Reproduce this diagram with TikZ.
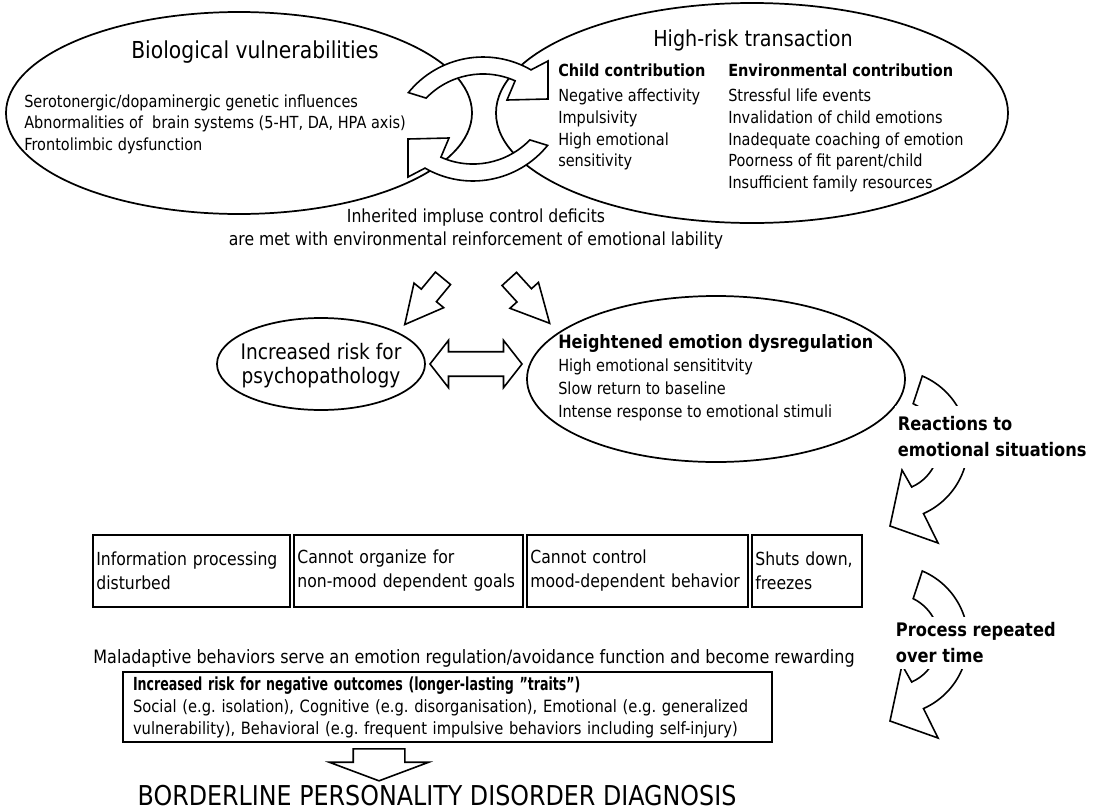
\documentclass[tikz,border=0pt]{standalone}
\usepackage{fontspec}
\setmainfont{DejaVu Sans}[FakeStretch=0.87]
\newfontfamily\narrowfont{DejaVu Sans}[FakeStretch=0.7]
\usetikzlibrary{shapes.geometric,shapes.arrows}

\begin{document}
\frenchspacing
\begin{tikzpicture}[x=0.75pt,y=-0.75pt,
  oval/.style={draw, ellipse, line width=1.3pt, inner sep=0pt},
  txt/.style={inner sep=0pt, align=left, font=\fontsize{12.5}{16.3}\selectfont},
  band/.style={draw, fill=white, line width=1.2pt},
  fat/.style={single arrow, draw, fill=white, line width=1.2pt, inner xsep=0pt},
  lbl/.style={fill=white, inner xsep=2pt, inner ysep=8pt, align=left, font=\fontsize{14}{19.5}\selectfont\bfseries},
  outbox/.style={draw, line width=1.4pt, minimum height=54pt, inner xsep=2.5pt, align=left, font=\fontsize{13.5}{18}\selectfont}]
\fill[white] (0,0) rectangle (1097,811);
\useasboundingbox (0,0) rectangle (1097,811);

% the two top ellipses
\node[oval, minimum width=349.5pt, minimum height=151.5pt] (bio) at (239,113) {};
\node[oval, minimum width=384pt, minimum height=165pt] (trans) at (752,113) {};

% circular arrows between them
\draw[band] (408.4,92.6) arc[start angle=219, end angle=300, radius=96] -- (548,61) -- (548,99) -- (507,100) -- (515.1,80.8) arc[start angle=294, end angle=224, radius=79] -- cycle;
\draw[band, rotate around={180:(478,119)}] (408.4,92.6) arc[start angle=219, end angle=300, radius=96] -- (548,61) -- (548,99) -- (507,100) -- (515.1,80.8) arc[start angle=294, end angle=224, radius=79] -- cycle;

\node[font=\fontsize{17.5}{20}\selectfont] (biotitle) at (255,52) {Biological vulnerabilities};
\node[txt, anchor=west, font=\fontsize{12.5}{16.1}\selectfont] (biolist) at (24,124) {Serotonergic/dopaminergic genetic influences\\Abnormalities of \ brain systems (5-HT, DA, HPA axis)\\Frontolimbic dysfunction};
\node[font=\fontsize{16.5}{19}\selectfont] (transtitle) at (753,40) {High-risk transaction};
\node[txt, anchor=west] (child) at (558,117) {{\bfseries Child contribution}\\[2.5pt]Negative affectivity\\Impulsivity\\High emotional\\sensitivity};
\node[txt, anchor=west] (env) at (728,128) {{\bfseries Environmental contribution}\\[2.5pt]Stressful life events\\Invalidation of child emotions\\Inadequate coaching of emotion\\Poorness of fit parent/child\\Insufficient family resources};

\node[align=center, inner sep=0pt, font=\fontsize{13.5}{17.25}\selectfont] (inherit) at (476,229) {Inherited impluse control deficits\\are met with environmental reinforcement of emotional lability};

% block arrows down
\node[fat, minimum height=45pt, inner ysep=6.75pt, single arrow head extend=7.1pt, single arrow tip angle=54, rotate=-129.6] (toRisk) at (430,294) {};
\node[fat, minimum height=45pt, inner ysep=6.75pt, single arrow head extend=7.1pt, single arrow tip angle=54, rotate=-47.7] (toDysreg) at (523,294) {};

% middle ellipses
\node[oval, minimum width=156pt, minimum height=69pt] (risk) at (321,364) {};
\node[align=center, inner sep=0pt, font=\fontsize{16}{18}\selectfont] (risktext) at (321,366) {Increased risk for\\psychopathology};
\node[oval, minimum width=283.5pt, minimum height=124.5pt] (dysreg) at (716,379) {};
\node[txt, anchor=west, font=\fontsize{12.5}{17.25}\selectfont] (dysregtext) at (558,378) {{\fontsize{13.8}{16}\selectfont\bfseries Heightened emotion dysregulation}\\High emotional sensititvity\\Slow return to baseline\\Intense response to emotional stimuli};
\node[double arrow, draw, fill=white, line width=1.2pt, inner xsep=0pt, inner ysep=8.6pt, double arrow head extend=8.6pt, double arrow tip angle=104, minimum height=69pt] (linkRD) at (476,364) {};

% curved arrows on the right
\draw[band] (922.3,376) arc[start angle=-67, end angle=66, radius=75] -- (938,543) -- (890,526) -- (902,470) -- (911.7,487) arc[start angle=66, end angle=-64, radius=46] -- cycle;
\draw[band, shift={(0,195)}] (922.3,376) arc[start angle=-67, end angle=66, radius=75] -- (938,543) -- (890,526) -- (902,470) -- (911.7,487) arc[start angle=66, end angle=-64, radius=46] -- cycle;
\node[lbl, anchor=west] (react) at (895,437) {Reactions to\\emotional situations};
\node[lbl, anchor=west, inner ysep=4pt] (repeat) at (893,643) {Process repeated\\over time};

% row of boxes
\node[outbox, text width=142.75pt] (info) at (191.5,571) {Information processing\\disturbed};
\node[outbox, text width=166.75pt] (goals) at (408.5,571) {Cannot organize for\\non-mood dependent goals};
\node[outbox, text width=160.75pt] (mood) at (637.5,571) {Cannot control\\mood-dependent behavior};
\node[outbox, text width=77.5pt] (freeze) at (807,571) {Shuts down,\\freezes};

\node[font=\fontsize{13.8}{16}\selectfont] (reward) at (474,658) {Maladaptive behaviors serve an emotion regulation/avoidance function and become rewarding};

\node[draw, line width=1.4pt, minimum height=52.5pt, inner xsep=7.5pt, text width=471.75pt, align=left, font=\fontsize{12.7}{16.5}\selectfont] (outcome) at (447.5,707) {{\fontsize{13.5}{16}\narrowfont\bfseries Increased risk for negative outcomes (longer-lasting ”traits”)}\\Social (e.g. isolation), Cognitive (e.g. disorganisation), Emotional (e.g. generalized\\vulnerability), Behavioral (e.g. frequent impulsive behaviors including self-injury)};

\node[fat, rotate=-90, minimum height=24pt, inner ysep=18.75pt, single arrow head extend=18pt, single arrow tip angle=139] (toBPD) at (379,760) {};
\node[font=\fontsize{20.5}{24}\selectfont] (bpd) at (437,796) {BORDERLINE PERSONALITY DISORDER DIAGNOSIS};
\end{tikzpicture}
\end{document}
